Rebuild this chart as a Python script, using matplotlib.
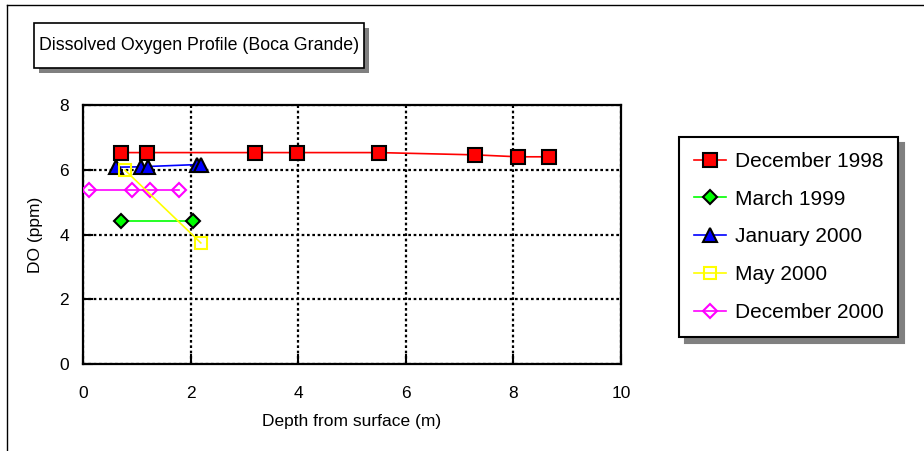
import matplotlib
matplotlib.use("Agg")
import matplotlib.pyplot as plt
from matplotlib.patches import Rectangle
from matplotlib.lines import Line2D

plt.rcParams['font.family'] = ['Liberation Sans', 'DejaVu Sans']

# -------- data --------
dec98_depth = [0.70, 1.19, 3.20, 3.98, 5.50, 7.29, 8.08, 8.66]
dec98_do = [6.53, 6.53, 6.53, 6.53, 6.53, 6.46, 6.40, 6.40]

mar99_depth = [0.70, 2.04]
mar99_do = [4.43, 4.43]

jan00_depth = [0.61, 1.07, 1.20, 2.12, 2.19]
jan00_do = [6.08, 6.09, 6.10, 6.16, 6.16]

may00_depth = [0.78, 2.19]
may00_do = [5.99, 3.74]

dec00_depth = [0.11, 0.92, 1.25, 1.78]
dec00_do = [5.37, 5.37, 5.37, 5.37]

series_names = ['December 1998', 'March 1999', 'January 2000', 'May 2000', 'December 2000']

x_ticks = [0, 2, 4, 6, 8, 10]
y_ticks = [0, 2, 4, 6, 8]

W, H = 924, 451
fig = plt.figure(figsize=(W / 100, H / 100), dpi=100)

def px(x0, y0, x1, y1):
    # pixel box (top-left origin) -> figure fraction
    return (x0 / W, 1 - y1 / H, (x1 - x0) / W, (y1 - y0) / H)

# outer border (only top and left are visible)
fig.add_artist(Line2D([7 / W, 7 / W], [0, 1 - 5 / H], color='black', lw=1, transform=fig.transFigure))
fig.add_artist(Line2D([7 / W, 1], [1 - 5 / H, 1 - 5 / H], color='black', lw=1, transform=fig.transFigure))

# title box with shadow
sx, sy, sw, sh = px(39, 28, 369, 73)
fig.add_artist(Rectangle((sx, sy), sw, sh, transform=fig.transFigure, fc='#808080', ec='none'))
bx, by, bw, bh = px(34, 23, 364, 68)
fig.add_artist(Rectangle((bx, by), bw, bh, transform=fig.transFigure, fc='white', ec='black', lw=1.2))
fig.text(bx + bw / 2, by + bh / 2, 'Dissolved Oxygen Profile (Boca Grande)',
         ha='center', va='center', fontsize=12.8, zorder=10)

ax = fig.add_axes(px(83, 105, 621, 364))

ax.plot(dec98_depth, dec98_do, color='red', lw=1.2, marker='s', ms=10,
        mfc='red', mec='black', mew=1.5, label=series_names[0], zorder=5)
ax.plot(mar99_depth, mar99_do, color='#00ff00', lw=1.2, marker='D', ms=7.5,
        mfc='#00ff00', mec='black', mew=1.5, label=series_names[1], zorder=4)
ax.plot(jan00_depth, jan00_do, color='blue', lw=1.2, marker='^', ms=10,
        mfc='blue', mec='black', mew=1.5, label=series_names[2], zorder=4)
ax.plot(may00_depth, may00_do, color='yellow', lw=1.2, marker='s', ms=9,
        mfc='none', mec='yellow', mew=1.5, label=series_names[3], zorder=6)
ax.plot(dec00_depth, dec00_do, color='magenta', lw=1.2, marker='D', ms=7.5,
        mfc='none', mec='magenta', mew=1.5, label=series_names[4], zorder=4)

ax.set_xlim(0, 10)
ax.set_ylim(0, 8)
ax.set_xticks(x_ticks)
ax.set_yticks(y_ticks)
ax.grid(True, color='black', linestyle=(0, (1.2, 1.2)), lw=1.6)
ax.set_axisbelow(True)
for s in ax.spines.values():
    s.set_linewidth(1.6)
ax.tick_params(direction='in', length=7, width=1.5, labelsize=12.5)
ax.tick_params(axis='x', pad=16)
ax.tick_params(axis='y', pad=10)
ax.set_xlabel('Depth from surface (m)', fontsize=12.5, labelpad=9)
ax.set_ylabel('DO (ppm)', fontsize=12.5, labelpad=12)

leg = fig.legend(loc='upper left', bbox_to_anchor=(679 / W, 1 - 137 / H),
                 fontsize=15, frameon=True, fancybox=False,
                 shadow={'color': '#808080', 'alpha': 1, 'ox': 4, 'oy': -4},
                 borderpad=0.72, labelspacing=0.9, handlelength=1.55,
                 handletextpad=0.4, borderaxespad=0)
leg.get_frame().set_edgecolor('black')
leg.get_frame().set_linewidth(1.5)

fig.savefig('out.png', dpi=100)
